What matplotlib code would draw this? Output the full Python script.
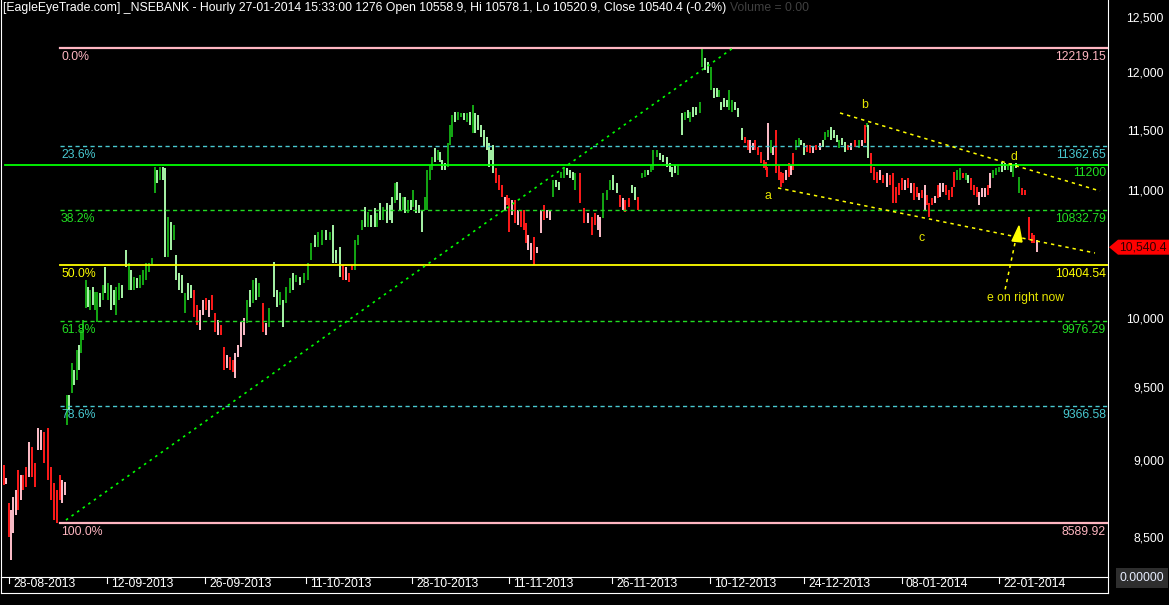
# ===================
# Part 1: Importing Libraries
# ===================
import matplotlib
matplotlib.use("Agg")
import matplotlib.pyplot as plt
from matplotlib.lines import Line2D
from matplotlib.patches import Polygon
from matplotlib.ticker import FixedLocator, NullLocator

plt.rcParams["font.family"] = ["Liberation Sans", "DejaVu Sans"]

# ===================
# Part 2: Data Preparation
# ===================
# Bars: time in trading days from 28-08-2013,
# high / low price, and bar kind
# (G = up bar in uptrend, g = down bar in uptrend, R = down bar in downtrend, p = up bar in downtrend)
bar_t = [
    -0.5, -0.3, 0.0, 0.2, 0.4, 0.7, 0.9, 1.2, 1.4, 1.7, 2.0, 2.3, 2.6, 2.9, 3.2, 3.5, 3.9, 4.2, 4.5, 4.8, 5.1, 5.3, 5.6,
    5.8, 6.0, 6.3, 6.5, 6.8, 7.0, 7.2, 7.4, 7.7, 7.9, 8.1, 8.4, 8.6, 8.8, 9.1, 9.4, 9.6, 9.9, 10.2, 10.5,
    10.7, 11.0, 11.3, 11.7, 12.0, 12.2, 12.5, 12.8, 13.1, 13.4, 13.7, 14.0, 14.3,
    14.6, 14.8, 15.1, 15.4, 15.6, 15.9, 16.2, 16.5, 16.7, 17.0, 17.3, 17.6, 17.9, 18.2, 18.5, 18.8, 19.1,
    19.4, 19.7, 20.0, 20.3, 20.6, 20.9, 21.2, 21.5, 21.8, 22.1, 22.4, 22.6, 22.9, 23.2, 23.5,
    23.8, 24.1, 24.4, 24.7, 25.0, 25.4, 25.7, 26.0, 26.5, 26.8, 27.1, 27.4, 27.7, 28.1, 28.4,
    28.7, 29.1, 29.5, 29.9, 30.2, 30.6, 30.9, 31.3, 31.7, 32.1, 32.4, 32.7, 33.1,
    33.4, 33.7, 34.0, 34.3, 34.6, 34.9, 35.3, 35.6, 35.9, 36.2, 36.6, 36.8, 37.1, 37.4, 37.8,
    38.1, 38.3, 38.6, 38.8, 39.1, 39.4, 39.6, 39.9, 40.2, 40.4, 40.7, 41.0, 41.3,
    41.6, 41.8, 42.1, 42.3, 42.6, 42.9, 43.1, 43.3, 43.6, 43.9, 44.1, 44.3, 44.6, 44.9, 45.2,
    45.5, 45.8, 46.1, 46.4, 46.6, 46.9, 47.2, 47.5, 47.8, 48.0, 48.2, 48.4,
    48.7, 49.0, 49.3, 49.6, 49.8, 50.0, 50.3, 50.6, 50.9, 51.2, 51.5, 51.7, 51.9, 52.2, 52.5,
    52.8, 53.2, 53.5, 53.8, 54.1,
    54.4, 54.7, 55.0, 55.2, 55.5, 55.8, 56.1, 56.4, 56.6, 57.1, 57.5, 57.9, 58.3, 58.6, 58.9,
    59.1, 59.4, 59.8, 60.1, 60.4, 60.8, 61.1, 61.4, 61.6, 62.0, 62.3, 62.6, 62.9,
    63.3, 63.6, 63.9, 64.2, 64.4, 64.8, 65.1, 65.4, 65.8, 66.1, 66.3, 66.6, 66.9, 67.3, 67.6,
    67.9, 68.1, 68.4, 68.7, 69.1, 69.3, 69.6, 69.9, 70.2, 70.5, 70.8, 71.0, 71.2, 71.5, 71.8,
    72.0, 72.3, 72.6, 72.9,
    73.3, 73.6, 73.9, 74.1, 74.4, 74.6, 74.9, 75.2, 75.5, 75.7, 75.8, 75.9, 76.2, 76.4, 76.7,
    77.0, 77.2, 77.4, 77.7, 78.0, 78.2,
    78.4, 78.7, 79.0, 79.2, 79.5, 79.8, 80.1, 80.4, 80.7, 81.1, 81.4, 81.6, 81.9, 82.2, 82.5,
    82.8, 83.0, 83.3, 83.6, 83.9, 84.2, 84.6, 85.0, 85.3, 85.6, 85.8,
    85.9, 86.2, 86.5, 86.8, 87.1, 87.4, 87.8, 88.1, 88.4, 88.7, 89.0, 89.3, 89.6, 89.9, 90.2,
    90.5, 90.8, 91.0, 91.3, 91.6, 91.8, 92.0, 92.3, 92.6, 92.9, 93.1, 93.4, 93.7, 94.0, 94.3,
    94.5, 94.8, 95.1, 95.4, 95.7, 95.9, 96.2, 96.5, 96.8, 97.0, 97.3, 97.6, 97.9, 98.1, 98.4,
    98.7, 99.0, 99.3, 99.6, 99.9, 100.2, 100.4, 100.7, 101.0, 101.3, 101.6, 102.0, 102.3, 102.5, 102.8,
]
bar_hi = [
    8968, 8882, 8718, 8673, 8757, 8803, 8934, 8901, 8901, 8954, 9122, 9088, 8981, 9217, 9204, 9190, 9217, 8954, 8849, 8803, 8901, 8868, 8855,
    9446, 9446, 9673, 9623, 9766, 9803, 9912, 9986, 10287, 10234, 10211, 10234, 10196, 10196, 10188, 10249, 10387, 10264, 10249, 10211,
    10234, 10264, 10249, 10519, 10418, 10364, 10310, 10302, 10325, 10364, 10418, 10418, 10456,
    11187, 11162, 11187, 11187, 11178, 10779, 10739, 10716, 10480, 10341, 10325, 10188, 10264, 10249, 10211, 10098, 10061,
    10136, 10151, 10136, 10173, 10038, 9986, 9949, 9788, 9730, 9716, 9694, 9745, 9803, 9971, 10001,
    10136, 10211, 10287, 10302, 10264, 10113, 9964, 10076, 10425, 10211, 10196, 10136, 10234, 10302, 10341,
    10325, 10310, 10341, 10418, 10573, 10636, 10660, 10676, 10676, 10660, 10716, 10519, 10542,
    10402, 10387, 10341, 10402, 10597, 10636, 10755, 10860, 10819, 10795, 10852, 10811, 10892, 10860, 10892,
    10876, 10941, 11055, 11063, 10973, 10941, 10941, 10916, 10916, 10997, 10916, 10876, 10835,
    10941, 11162, 11203, 11270, 11346, 11329, 11312, 11245, 11220, 11388, 11541, 11627, 11653, 11653, 11644,
    11644, 11644, 11653, 11713, 11644, 11627, 11541, 11498, 11439, 11388, 11329, 11371,
    11178, 11120, 11038, 10941, 10957, 10932, 10916, 10916, 10835, 10835, 10835, 10731, 10636, 10573, 10620,
    10542, 10835, 10876, 10835, 10835,
    11079, 11079, 11063, 11145, 11187, 11178, 11162, 11145, 11137, 11137, 10852, 10811, 10779, 10811, 10795,
    10779, 10973, 10997, 11079, 11120, 11055, 10957, 10932, 10916, 10932, 11038, 11022, 10941,
    11137, 11162, 11162, 11203, 11329, 11329, 11304, 11287, 11270, 11220, 11187, 11203, 11203, 11644, 11653,
    11670, 11653, 11696, 11696, 11739, 12219, 12129, 12093, 12048, 11862, 11862, 11844, 11739, 11774, 11757,
    11844, 11757, 11739, 11687,
    11515, 11439, 11413, 11413, 11388, 11413, 11354, 11312, 11245, 11228, 11187, 11558, 11413, 11354, 11498,
    11203, 11145, 11137, 11162, 11220, 11203,
    11304, 11413, 11430, 11413, 11388, 11371, 11371, 11354, 11371, 11388, 11413, 11481, 11498, 11524, 11498,
    11456, 11413, 11430, 11396, 11371, 11388, 11413, 11413, 11413, 11541, 11558,
    11541, 11304, 11187, 11145, 11162, 11121, 11137, 11121, 11137, 11022, 11055, 11096, 11079, 11096, 11055,
    11055, 11022, 10973, 10997, 11038, 10957, 10892, 10932, 10949, 11038, 11055, 11055, 11038, 10997, 11022,
    11145, 11162, 11178, 11137, 11137, 11121, 11096, 11038, 11022, 10981, 11014, 11014, 11038, 11137, 11162,
    11178, 11187, 11228, 11220, 11203, 11220, 11203, 11220, 11104, 11014, 10997, 10779, 10652, 10636, 10597,
]
bar_lo = [
    8836, 8842, 8501, 8357, 8527, 8641, 8673, 8738, 8803, 8823, 8888, 8888, 8823, 9068, 9068, 8981, 8868, 8738, 8609, 8590, 8738, 8718, 8770,
    9238, 9341, 9460, 9516, 9551, 9623, 9745, 9839, 10076, 10083, 10061, 10098, 10061, 9971, 10083, 10136, 10188, 10136, 10061, 10098,
    10023, 10136, 10151, 10387, 10211, 10211, 10211, 10226, 10226, 10249, 10287, 10348, 10402,
    10973, 11055, 11079, 11079, 10464, 10464, 10519, 10597, 10287, 10211, 10188, 10038, 10136, 10151, 10008, 9949, 9912,
    10023, 10061, 10008, 10061, 9898, 9876, 9876, 9623, 9637, 9623, 9608, 9566, 9716, 9788, 9876,
    9964, 10083, 10113, 10136, 10158, 9898, 9876, 9934, 10158, 10083, 10098, 9934, 10113, 10188, 10211,
    10272, 10249, 10264, 10287, 10441, 10542, 10542, 10558, 10597, 10597, 10418, 10418, 10310,
    10287, 10287, 10272, 10364, 10364, 10558, 10676, 10700, 10700, 10700, 10700, 10700, 10755, 10755, 10731,
    10755, 10731, 10892, 10916, 10835, 10835, 10811, 10811, 10835, 10860, 10811, 10811, 10660,
    10835, 10835, 11079, 11162, 11228, 11245, 11228, 11162, 11162, 11187, 11371, 11439, 11566, 11584, 11610,
    11584, 11566, 11541, 11473, 11473, 11498, 11439, 11354, 11329, 11187, 11245, 11137,
    11051, 10997, 10941, 10835, 10876, 10660, 10795, 10731, 10716, 10700, 10676, 10573, 10519, 10441, 10402,
    10495, 10652, 10755, 10771, 10755,
    10941, 11022, 10997, 11096, 11096, 11121, 11096, 11079, 10997, 10892, 10731, 10731, 10636, 10716, 10676,
    10620, 10771, 10916, 10997, 10997, 10973, 10860, 10835, 10819, 10860, 10973, 10916, 10835,
    11096, 11104, 11121, 11145, 11162, 11270, 11245, 11228, 11187, 11145, 11104, 11137, 11121, 11456, 11584,
    11601, 11566, 11610, 11627, 11644, 12048, 12021, 11995, 11844, 11774, 11783, 11783, 11670, 11696, 11696,
    11670, 11653, 11670, 11610,
    11413, 11388, 11329, 11304, 11329, 11329, 11287, 11220, 11178, 11162, 11104, 11245, 11304, 11287, 11137,
    11079, 11022, 11055, 11079, 11104, 11121,
    11162, 11329, 11354, 11371, 11287, 11312, 11304, 11304, 11329, 11329, 11354, 11413, 11439, 11413, 11430,
    11396, 11346, 11371, 11312, 11329, 11329, 11354, 11346, 11363, 11388, 11524,
    11262, 11137, 11079, 11055, 11079, 11055, 11022, 11038, 10892, 10892, 10957, 10997, 10997, 11014, 10973,
    10916, 10941, 10916, 10932, 10835, 10876, 10779, 10876, 10892, 10932, 10941, 10981, 10957, 10916, 10941,
    11022, 11079, 11079, 11096, 11079, 11055, 10997, 10957, 10941, 10876, 10941, 10941, 10957, 11014, 11096,
    11121, 11145, 11145, 11162, 11162, 11145, 11104, 11178, 10973, 10957, 10957, 10597, 10573, 10573, 10503,
]
bar_kind = (
    "RpRpppRpRRpRRppRRRRRRpp"
    "GgGgGgGGGgGgGGgGgGgg" "GGggGgGgGGGGG"
    "GgGggGgGgggGggRRppRp" "RRpRRpRRpppp"
    "GgGgGRpGggGgGGg" "GgGGGgGGgGggg"
    "RpRRGGGgGggGgGg" "ggGggGgGgGggg"
    "GGGGgGgggGGGgGG" "gGgGgggggggg"
    "RRRpRRpRpRRRppR" "ppRpp"
    "GggGGgggGRRpRRp" "pGGGggRpRRggR"
    "GGgGGGggggggGgGgG" "ggGGggGggGgggGGggg"
    "RRppRRRRRRpGpRRRRpRpR"
    "GGggRRpRpgGGggg" "GggRpRGpRGg"
    "RRRpRpRRRRRpRpR" "RpRpRRRpRppRRRR"
    "GGRGgRRRpppRpGG" "GggGgGgGRRRRRpR"
)

# Fibonacci retracement between the swing low and the swing high
fib_low = 8589.923
fib_high = 12219.153
fib_ratios = [0.0, 0.236, 0.382, 0.5, 0.618, 0.786, 1.0]
fib_start_t = 5.1

# Horizontal support line
hline_level = 11200
hline_start_t = -0.4

# Trend lines (time, price)
trend_t = [5.7, 72.4]
trend_p = [8609, 12219]
wedge_upper_t = [83.1, 109.1]
wedge_upper_p = [11644, 10989]
wedge_lower_t = [76.9, 108.6]
wedge_lower_p = [11014, 10495]

# Last bar quote
last_open = 10558.9
last_hi = 10578.1
last_lo = 10520.9
last_close = 10540.4
last_chg = -0.2

# Axes
date_tick_t = [0.0, 9.8, 19.6, 29.7, 40.3, 50.0, 60.3, 70.1, 79.5, 89.3, 99.0]
date_tick_labels = ["28-08-2013", "12-09-2013", "26-09-2013", "11-10-2013", "28-10-2013", "11-11-2013",
                    "26-11-2013", "10-12-2013", "24-12-2013", "08-01-2014", "22-01-2014"]
price_ticks = [8500, 9000, 9500, 10000, 10500, 11000, 11500, 12000, 12500]

# ===================
# Part 3: Plot Configuration and Rendering
# ===================
W, H = 1169, 605
fs = 8.8
x_max = 109.9

fig = plt.figure(figsize=(W / 100, H / 100), dpi=100, facecolor="black")
ax = fig.add_axes([1 / W, 28 / H, 1107 / W, 577 / H], facecolor="black")
ax.set_yscale("log")
ax.set_xlim(-0.8, x_max)
ax.set_ylim(8252.5, 12662)

# OHLC bars
kind_colors = {"G": "#14a814", "g": "#a8f5a8", "R": "#ff1a1a", "p": "#ffc0cb"}
ax.vlines(bar_t, bar_lo, bar_hi, colors=[kind_colors[k] for k in bar_kind], linewidth=1.4, zorder=3)

# Fibonacci levels
pink, cyan, green, yellow = "#ffb6c1", "#48c8d0", "#22dd22", "#ffff00"
dash = (0, (3, 2.4))
fib_style = {
    0.0: (pink, "-", 1.6), 0.236: (cyan, dash, 1.0), 0.382: (green, dash, 1.0),
    0.5: (yellow, "-", 1.3), 0.618: (green, dash, 1.0), 0.786: (cyan, dash, 1.0), 1.0: (pink, "-", 1.6),
}
rng = fib_high - fib_low
for r in fib_ratios:
    lvl = fib_high - r * rng
    col, ls, lw = fib_style[r]
    ax.plot([fib_start_t, x_max], [lvl, lvl], color=col, linestyle=ls, linewidth=lw, zorder=4)
    ax.annotate(f"{r * 100:.1f}%", xy=(fib_start_t, lvl), xytext=(1, -3), textcoords="offset pixels",
                ha="left", va="top", color=col, fontsize=fs)
    ax.annotate(f"{lvl:.2f}", xy=(1, lvl), xycoords=("axes fraction", "data"), xytext=(-2, -3),
                textcoords="offset pixels", ha="right", va="top", color=col, fontsize=fs)

# 11200 line
ax.plot([hline_start_t, x_max], [hline_level, hline_level], color="#00ff00", linewidth=1.3, zorder=4)
ax.annotate(f"{hline_level}", xy=(1, hline_level), xycoords=("axes fraction", "data"), xytext=(-2, -2),
            textcoords="offset pixels", ha="right", va="top", color=green, fontsize=fs)

# Trend lines
ax.plot(trend_t, trend_p, color="#00ff00", linewidth=1.2, linestyle=(0, (1.5, 2.6)), zorder=4)
ax.plot(wedge_upper_t, wedge_upper_p, color=yellow, linewidth=1.1, linestyle=(0, (2.2, 2.6)), zorder=4)
ax.plot(wedge_lower_t, wedge_lower_p, color=yellow, linewidth=1.1, linestyle=(0, (2.2, 2.6)), zorder=4)

# Wave labels
wave_col = "#e6e600"
for txt, t, p in [("a", 75.9, 10949), ("b", 85.6, 11713), ("c", 91.3, 10613), ("d", 100.5, 11270)]:
    ax.text(t, p, txt, ha="center", va="center", color=wave_col, fontsize=fs, zorder=5)
ax.text(101.7, 10151, "e on right now", ha="center", va="center", color=wave_col, fontsize=fs, zorder=5)
ax.add_patch(Polygon([(101.0, 10708), (100.3, 10589), (101.3, 10581)], closed=True,
                     facecolor=yellow, edgecolor=yellow, zorder=5))
ax.plot([100.6, 99.6], [10573, 10211], color=yellow, linewidth=1.1, linestyle=(0, (2.2, 2.6)), zorder=5)

# Right price axis (the 10,500 label sits under the last-price tag)
ax.yaxis.tick_right()
ax.yaxis.set_major_locator(FixedLocator(price_ticks))
ax.yaxis.set_minor_locator(NullLocator())
ax.set_yticklabels(["" if v == 10500 else f"{v:,}" for v in price_ticks])
ax.tick_params(axis="y", length=0, pad=40.3, labelcolor="white", labelsize=fs)
for lbl in ax.get_yticklabels():
    lbl.set_horizontalalignment("right")
ax.set_xticks([])

for side in ["left", "bottom", "right"]:
    ax.spines[side].set_color("white")
    ax.spines[side].set_linewidth(0.8)
ax.spines["top"].set_visible(False)

# Date strip
xtrans = ax.get_xaxis_transform()
for t, lab in zip(date_tick_t, date_tick_labels):
    ax.plot([t, t], [0, -6 / 577], transform=xtrans, color="white", linewidth=0.8, clip_on=False)
    ax.annotate(lab, xy=(t, 0), xycoords=xtrans, xytext=(4, -1), textcoords="offset pixels",
                ha="left", va="top", color="white", fontsize=fs, annotation_clip=False)
fig.add_artist(Line2D([1 / W, 1108 / W], [12 / H, 12 / H], color="white", linewidth=0.8))
fig.add_artist(Line2D([1108 / W, 1108 / W], [12 / H, 28 / H], color="white", linewidth=0.8))
fig.add_artist(Line2D([1 / W, 1 / W], [12 / H, 28 / H], color="white", linewidth=0.8))

fig.text(1164 / W, 1 - 578 / H, "0.00000", ha="right", va="center", color="#e8eeff", fontsize=fs,
         bbox=dict(boxstyle="square,pad=0.3", facecolor="#2e2e2e", edgecolor="none"))

# Last price tag
yc = ax.transData.transform((0, last_close))[1]
tag = Polygon([(1109 / W, yc / H), (1118 / W, (yc + 7.5) / H), (1.0, (yc + 7.5) / H),
               (1.0, (yc - 7.5) / H), (1118 / W, (yc - 7.5) / H)], closed=True,
              transform=fig.transFigure, facecolor="#ff0000", edgecolor="none", zorder=5)
fig.add_artist(tag)
fig.text(1167 / W, yc / H, f"{last_close:,.1f}", ha="right", va="center", color="#300000",
         fontsize=fs, zorder=6)

# Title
title = (f"[EagleEyeTrade.com] _NSEBANK - Hourly 27-01-2014 15:33:00 1276 Open {last_open}, "
         f"Hi {last_hi}, Lo {last_lo}, Close {last_close} ({last_chg}%)")
t1 = fig.text(3 / W, 1 - 2 / H, title, ha="left", va="top", color="white", fontsize=fs)
renderer = fig.canvas.get_renderer()
x_end = t1.get_window_extent(renderer).x1
fig.text((x_end + 4) / W, 1 - 2 / H, "Volume = 0.00", ha="left", va="top", color="#404040", fontsize=fs)

# ===================
# Part 4: Saving Output
# ===================
plt.savefig("out.png", dpi=100, facecolor="black")
